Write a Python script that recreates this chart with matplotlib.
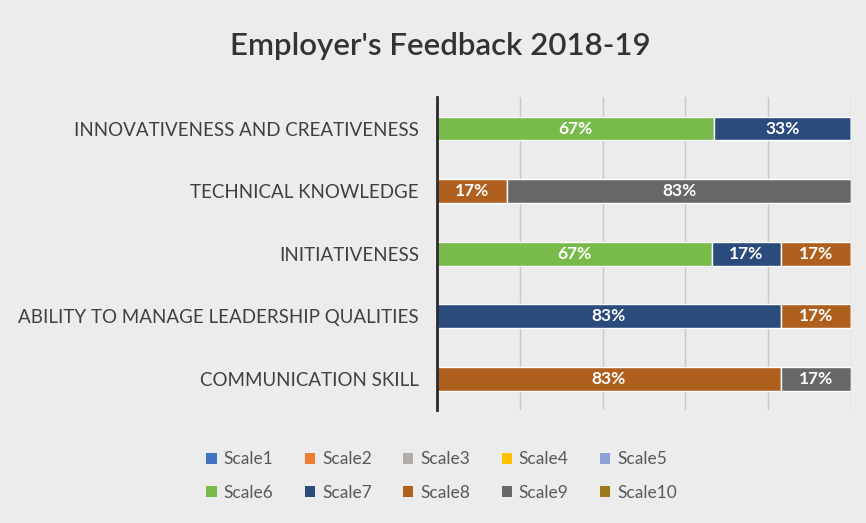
import matplotlib
matplotlib.use("Agg")
import matplotlib.pyplot as plt
from matplotlib.patches import Patch
import numpy as np

plt.rcParams["font.family"] = ["Lato", "DejaVu Sans"]

categories = [
    "INNOVATIVENESS AND CREATIVENESS",
    "TECHNICAL KNOWLEDGE",
    "INITIATIVENESS",
    "ABILITY TO MANAGE LEADERSHIP QUALITIES",
    "COMMUNICATION SKILL",
]
scale_names = [f"Scale{i}" for i in range(1, 11)]
scale_colors = ["#4472c4", "#ed7d31", "#b0aca6", "#ffc000", "#8e9fd6",
                "#78bb4a", "#2a4b7c", "#b0601e", "#686868", "#9c7a1c"]

# percentages per category (rows follow `categories`), columns Scale1..Scale10
scale1 = [0, 0, 0, 0, 0]
scale2 = [0, 0, 0, 0, 0]
scale3 = [0, 0, 0, 0, 0]
scale4 = [0, 0, 0, 0, 0]
scale5 = [0, 0, 0, 0, 0]
scale6 = [67, 0, 67, 0, 0]
scale7 = [33, 0, 17, 83, 0]
scale8 = [0, 17, 17, 17, 83]
scale9 = [0, 83, 0, 0, 17]
scale10 = [0, 0, 0, 0, 0]

series = np.array([scale1, scale2, scale3, scale4, scale5,
                   scale6, scale7, scale8, scale9, scale10], dtype=float)
# 100% stacked: each row is scaled to its total
share = series / series.sum(axis=0)

bg = "#ececec"
fig = plt.figure(figsize=(8.66, 5.23), dpi=100, facecolor=bg)
ax = fig.add_axes([0.5046, 0.216, 0.478, 0.598])
ax.set_facecolor("none")

y = np.arange(len(categories))
left = np.zeros(len(categories))
for name, color, vals, frac in zip(scale_names, scale_colors, series, share):
    ax.barh(y, frac, left=left, height=0.38, color=color,
            edgecolor="white", linewidth=1.0, zorder=3)
    for yi, v, f, l in zip(y, vals, frac, left):
        if v > 0:
            ax.text(l + f / 2, yi, f"{v:.0f}%", ha="center", va="center",
                    color="white", fontsize=12.5, fontweight="bold", zorder=4)
    left += frac

ax.set_xlim(0, 1)
ax.set_ylim(len(categories) - 0.5, -0.5)
ax.set_xticks(np.arange(0, 1.01, 0.2))
ax.set_xticklabels([])
ax.tick_params(axis="x", length=0)
ax.grid(True, axis="x", color="#c8c8c8", linewidth=1.0, zorder=0)
ax.set_yticks(y)
ax.set_yticklabels(categories, fontsize=13.5, color="#404040")
ax.tick_params(axis="y", length=0, pad=13)
for s in ["top", "right", "bottom"]:
    ax.spines[s].set_visible(False)
ax.spines["left"].set_color("#2b2b2b")
ax.spines["left"].set_linewidth(2)
ax.spines["left"].set_zorder(5)

fig.text(0.508, 0.912, "Employer's Feedback 2018-19", ha="center",
         va="center", fontsize=22.5, fontweight="semibold", color="#333333")

# legend fills column by column, so interleave to read row-wise
order = [0, 5, 1, 6, 2, 7, 3, 8, 4, 9]
handles = [Patch(facecolor=scale_colors[i], edgecolor="none") for i in order]
labels = [scale_names[i] for i in order]
fig.legend(handles, labels, loc="center", ncol=5,
           bbox_to_anchor=(0.51, 0.09), frameon=False, fontsize=12.5,
           labelcolor="#595959", handlelength=0.6, handleheight=0.6,
           handletextpad=0.4, columnspacing=1.8, labelspacing=1.0)

fig.savefig("out.png", dpi=100, facecolor=bg)
